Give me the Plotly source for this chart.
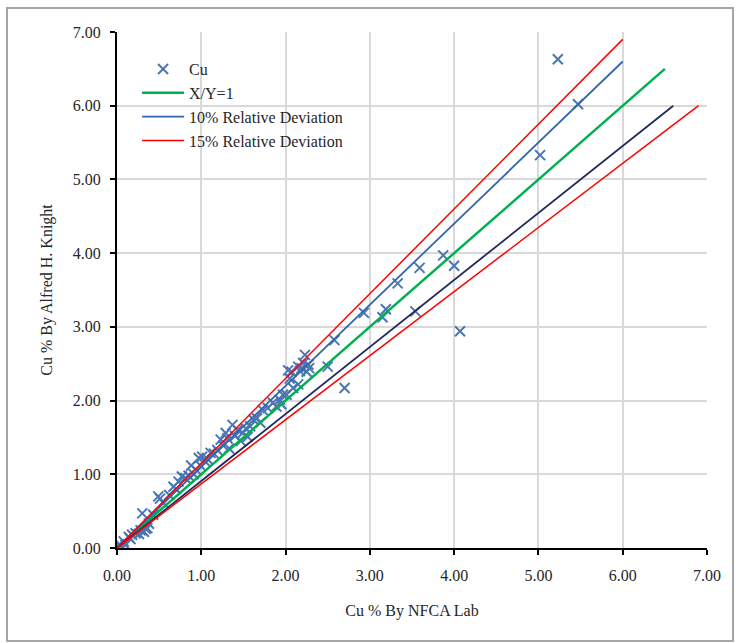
import plotly.graph_objects as go

# Cu % by NFCA Lab (x) vs Cu % by Alfred H. Knight (y)
cu_nfca = [0.01, 0.03, 0.05, 0.08, 0.10, 0.14, 0.16, 0.18, 0.22, 0.26, 0.28, 0.30, 0.32, 0.34,
           0.36, 0.38, 0.43, 0.49, 0.51, 0.55, 0.62, 0.67, 0.70, 0.73, 0.77, 0.81, 0.85, 0.88,
           0.91, 0.95, 0.97, 0.99, 1.01, 1.04, 1.07, 1.11, 1.15, 1.19, 1.23, 1.26, 1.29, 1.31,
           1.33, 1.37, 1.40, 1.43, 1.47, 1.49, 1.53, 1.55, 1.58, 1.62, 1.66, 1.70, 1.73, 1.79,
           1.85, 1.89, 1.93, 1.95, 1.97, 2.01, 2.03, 2.05, 2.07, 2.09, 2.15, 2.15, 2.17, 2.19,
           2.21, 2.23, 2.25, 2.27, 2.28, 2.50, 2.58, 2.70, 2.93, 3.15, 3.19, 3.33, 3.54, 3.59,
           3.87, 4.00, 4.07, 5.02, 5.23, 5.47]
cu_ahk = [0.02, 0.05, 0.01, 0.09, 0.04, 0.15, 0.12, 0.18, 0.20, 0.19, 0.24, 0.47, 0.22, 0.26,
          0.27, 0.33, 0.45, 0.70, 0.67, 0.61, 0.72, 0.83, 0.80, 0.90, 0.97, 0.95, 0.98, 1.12,
          1.00, 1.05, 1.22, 1.12, 1.24, 1.18, 1.21, 1.29, 1.28, 1.33, 1.47, 1.39, 1.56, 1.49,
          1.35, 1.67, 1.52, 1.60, 1.45, 1.56, 1.62, 1.51, 1.65, 1.74, 1.76, 1.70, 1.87, 1.90,
          1.97, 1.92, 2.01, 1.95, 2.08, 2.08, 2.41, 2.30, 2.39, 2.17, 2.46, 2.22, 2.40, 2.44,
          2.51, 2.62, 2.39, 2.49, 2.44, 2.46, 2.82, 2.17, 3.19, 3.13, 3.24, 3.59, 3.21, 3.80,
          3.97, 3.83, 2.94, 5.33, 6.63, 6.02]

# Reference lines
ref_x = [0, 6.5]
ref_y = [0, 6.5]
dev10_up_x = [0, 6.0]
dev10_up_y = [0, 6.6]
dev10_lo_x = [0, 6.6]
dev10_lo_y = [0, 6.0]
dev15_up_x = [0, 6.0]
dev15_up_y = [0, 6.9]
dev15_lo_x = [0, 6.9]
dev15_lo_y = [0, 6.0]

tick_vals = [0, 1, 2, 3, 4, 5, 6, 7]

FONT = "Liberation Serif, Times New Roman, serif"
FS = 16

fig = go.Figure()
fig.add_trace(go.Scatter(x=cu_nfca, y=cu_ahk, mode="markers", name="Cu",
                         marker=dict(symbol="x-thin", size=10, color="#4A76B4",
                                     line=dict(width=2, color="#4A76B4"))))
fig.add_trace(go.Scatter(x=ref_x, y=ref_y, mode="lines", name="X/Y=1",
                         line=dict(color="#00B050", width=2.5)))
fig.add_trace(go.Scatter(x=dev10_up_x, y=dev10_up_y, mode="lines", name="10% Relative Deviation",
                         line=dict(color="#3366AA", width=1.8)))
fig.add_trace(go.Scatter(x=dev15_up_x, y=dev15_up_y, mode="lines", name="15% Relative Deviation",
                         line=dict(color="#FF0000", width=1.5)))
fig.add_trace(go.Scatter(x=dev10_lo_x, y=dev10_lo_y, mode="lines", showlegend=False,
                         line=dict(color="#1F2A5C", width=1.8)))
fig.add_trace(go.Scatter(x=dev15_lo_x, y=dev15_lo_y, mode="lines", showlegend=False,
                         line=dict(color="#FF0000", width=1.5)))

W, H = 736, 643
L, T = 117, 32
pw, ph = 590, 516
R = W - L - pw
B = H - T - ph

axis_common = dict(range=[0, 7], tickvals=tick_vals, tickformat=".2f",
                   showgrid=True, gridcolor="#D9D9D9", gridwidth=2,
                   zeroline=False, showline=True, linecolor="black", linewidth=2,
                   ticks="outside", ticklen=5, tickcolor="black", tickwidth=1.5,
                   tickfont=dict(family=FONT, size=FS, color="#262626"),
                   fixedrange=True)

fig.update_layout(
    width=W, height=H,
    margin=dict(l=L, r=R, t=T, b=B),
    paper_bgcolor="white", plot_bgcolor="white",
    font=dict(family=FONT, size=FS, color="#262626"),
    xaxis=dict(**axis_common, ticklabelstandoff=7,
               title=dict(text="Cu % By NFCA Lab", font=dict(family=FONT, size=FS), standoff=22)),
    yaxis=dict(**axis_common, ticklabelstandoff=6,
               title=dict(text="Cu % By Alfred H. Knight", font=dict(family=FONT, size=FS), standoff=16)),
    legend=dict(x=0.034, y=0.961, xanchor="left", yanchor="top", itemwidth=42,
                bgcolor="rgba(0,0,0,0)", font=dict(family=FONT, size=FS, color="#262626"),
                tracegroupgap=0),
    showlegend=True,
    shapes=[dict(type="rect", xref="paper", yref="paper",
                 x0=(7 - L) / pw, x1=(733 - L) / pw,
                 y0=(H - B - 641) / ph, y1=(H - B - 8) / ph,
                 line=dict(color="#A6A6A6", width=2), fillcolor="rgba(0,0,0,0)", layer="below")],
)

fig.write_html("out.html", config={"displayModeBar": False},
               post_script="document.body.style.margin='0';")
